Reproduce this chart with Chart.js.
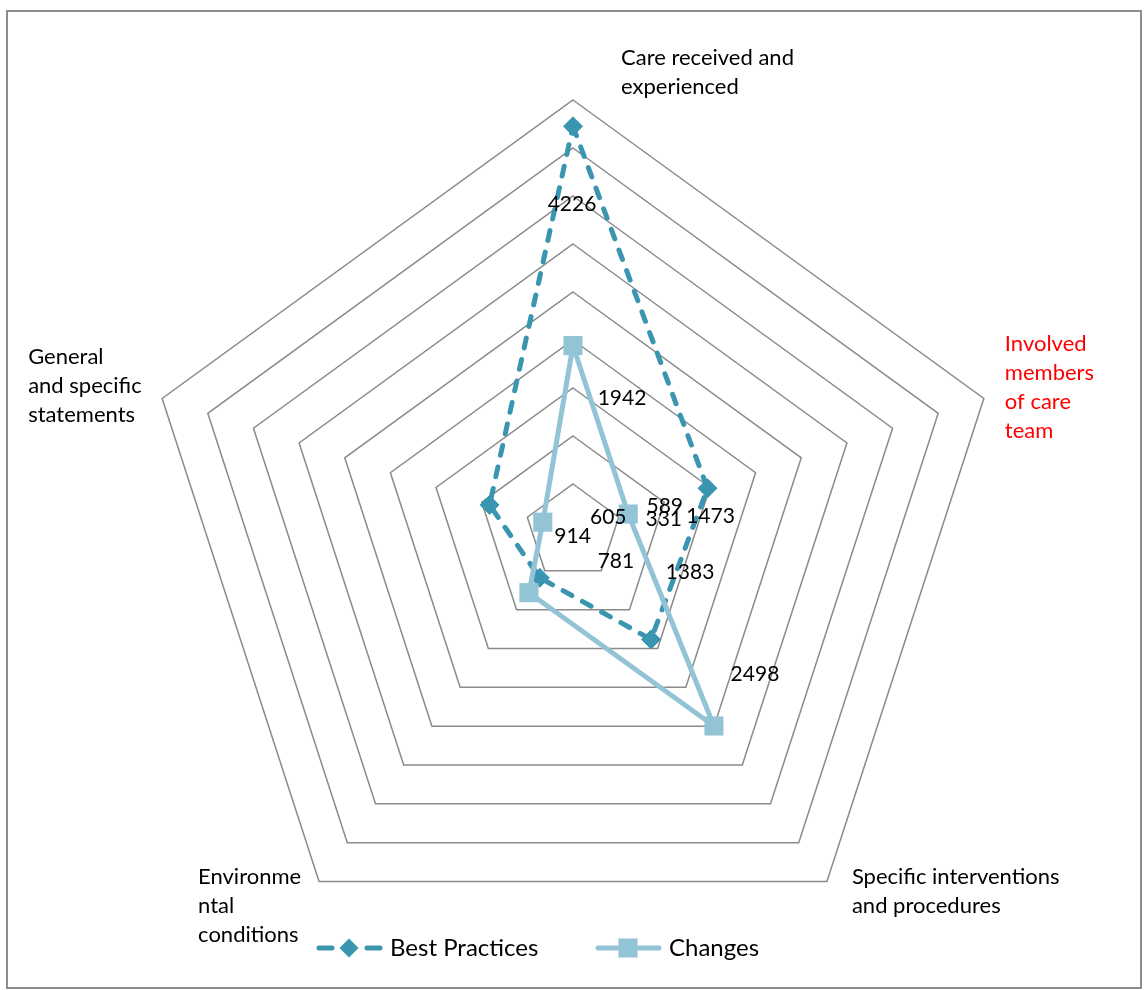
<!DOCTYPE html>
<html>
<head>
<meta charset="utf-8">
<script src="https://cdn.jsdelivr.net/npm/chart.js@4.4.1/dist/chart.umd.min.js"></script>
<style>
    html, body { margin: 0; padding: 0; background: #fff; }
    #wrap { position: relative; width: 1145px; height: 990px; }
    #frame {
        position: absolute; left: 6px; top: 10px; width: 1132px; height: 975px;
        border: 2px solid #8c8c8c; pointer-events: none;
    }
</style>
</head>
<body>
<div id="wrap">
    <canvas id="myChart" width="1145" height="990"></canvas>
    <div id="frame"></div>
</div>
<script>
// categories (one entry per axis, split into the lines shown)
const categories = [
    ['Care received and', 'experienced'],
    ['Involved', 'members', 'of care', 'team'],
    ['Specific interventions', 'and procedures'],
    ['Environme', 'ntal', 'conditions'],
    ['General', 'and specific', 'statements']
];
const bestPractices = [4226, 1473, 1383, 589, 914];
const changes = [1942, 605, 2498, 781, 331];
const scaleMax = 4500;
const scaleStep = 500;

document.addEventListener('DOMContentLoaded', function () {
    const dark = '#3a96b0';
    const light = '#93c4d6';
    const font = 'Lato, "Open Sans", sans-serif';

    // where each axis title sits, relative to its outer vertex
    const titleOffsets = [[48, -42], [21, -55], [25, -5], [-121, -5], [-134, -42]];
    const titleColors = ['#000', '#ff0000', '#000', '#000', '#000'];
    // value label offsets from their point, per dataset
    const valueOffsets = [
        [[-1, 78], [3, 28], [39, -67], [125, -72], [83, 31]],
        [[49, 53], [-20, 3], [41, -52], [87, -31], [121, -3]]
    ];

    const axisTitles = {
        id: 'axisTitles',
        afterDraw(chart) {
            const scale = chart.scales.r;
            const ctx = chart.ctx;
            ctx.save();
            ctx.font = '22px ' + font;
            ctx.textAlign = 'left';
            ctx.textBaseline = 'middle';
            categories.forEach((lines, i) => {
                const p = scale.getPointPosition(i, scale.drawingArea);
                ctx.fillStyle = titleColors[i];
                lines.forEach((line, j) => {
                    ctx.fillText(line, p.x + titleOffsets[i][0], p.y + titleOffsets[i][1] + j * 29.3);
                });
            });
            ctx.restore();
        }
    };

    const valueLabels = {
        id: 'valueLabels',
        afterDatasetsDraw(chart) {
            const ctx = chart.ctx;
            ctx.save();
            ctx.font = '21px ' + font;
            ctx.fillStyle = '#000';
            ctx.textAlign = 'center';
            ctx.textBaseline = 'middle';
            chart.data.datasets.forEach((ds, d) => {
                chart.getDatasetMeta(d).data.forEach((pt, i) => {
                    ctx.fillText(String(ds.data[i]), pt.x + valueOffsets[d][i][0], pt.y + valueOffsets[d][i][1]);
                });
            });
            ctx.restore();
        }
    };

    // legend drawn over the bottom of the plot, as in the original
    const bottomLegend = {
        id: 'bottomLegend',
        afterDraw(chart) {
            const ctx = chart.ctx;
            const y = 948;
            const items = [
                { x: 317, ds: chart.data.datasets[0] },
                { x: 596, ds: chart.data.datasets[1] }
            ];
            ctx.save();
            items.forEach(it => {
                const ds = it.ds;
                ctx.strokeStyle = ds.borderColor;
                ctx.lineWidth = ds.borderWidth;
                ctx.lineCap = 'round';
                ctx.setLineDash([]);
                if (ds.borderDash.length) {
                    ctx.beginPath();
                    ctx.moveTo(it.x + 2, y); ctx.lineTo(it.x + 15, y);
                    ctx.moveTo(it.x + 50, y); ctx.lineTo(it.x + 63, y);
                    ctx.stroke();
                } else {
                    ctx.beginPath();
                    ctx.moveTo(it.x + 2, y); ctx.lineTo(it.x + 63, y);
                    ctx.stroke();
                }
                ctx.fillStyle = ds.pointBackgroundColor;
                Chart.helpers.drawPoint(ctx, {
                    pointStyle: ds.pointStyle, radius: ds.pointRadius, borderWidth: 0
                }, it.x + 32, y);
                ctx.fillStyle = '#000';
                ctx.font = '24px ' + font;
                ctx.textAlign = 'left';
                ctx.textBaseline = 'middle';
                ctx.fillText(ds.label, it.x + 73, y);
            });
            ctx.restore();
        }
    };

    const ctx = document.getElementById('myChart').getContext('2d');
    new Chart(ctx, {
        type: 'radar',
        data: {
            labels: categories,
            datasets: [{
                label: 'Best Practices',
                data: bestPractices,
                borderColor: dark,
                backgroundColor: dark,
                borderWidth: 5,
                borderDash: [10, 12],
                borderCapStyle: 'round',
                fill: false,
                tension: 0,
                pointStyle: 'rectRot',
                pointRadius: 9.5,
                pointHoverRadius: 9.5,
                pointBackgroundColor: dark,
                pointBorderColor: dark,
                pointBorderWidth: 1,
                order: 2
            }, {
                label: 'Changes',
                data: changes,
                borderColor: light,
                backgroundColor: light,
                borderWidth: 5,
                borderDash: [],
                fill: false,
                tension: 0,
                pointStyle: 'rect',
                pointRadius: 13.5,
                pointHoverRadius: 13.5,
                pointBackgroundColor: light,
                pointBorderColor: light,
                pointBorderWidth: 0,
                order: 1
            }]
        },
        options: {
            responsive: false,
            animation: false,
            layout: {
                padding: { left: 141, right: 140, top: 100, bottom: 26 }
            },
            scales: {
                r: {
                    min: 0,
                    max: scaleMax,
                    ticks: { display: false, stepSize: scaleStep },
                    grid: { color: '#8a8a8a', lineWidth: 1.5 },
                    angleLines: { display: false },
                    pointLabels: { display: false }
                }
            },
            plugins: {
                legend: { display: false },
                tooltip: { enabled: false }
            }
        },
        plugins: [axisTitles, valueLabels, bottomLegend]
    });
});
</script>
</body>
</html>
